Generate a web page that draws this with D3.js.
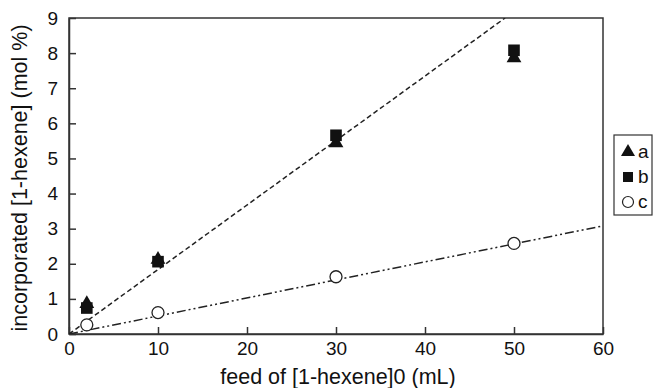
<!DOCTYPE html>
<html>
<head>
<meta charset="utf-8">
<script src="https://cdn.jsdelivr.net/npm/d3@7"></script>
<style>
  body { margin: 0; background: #fff; }
  svg { font-family: "Liberation Sans", Arial, sans-serif; }
</style>
</head>
<body>
<div id="chart"></div>
<script>
// data
const feed = [2, 10, 30, 50];
const seriesA = [0.86, 2.12, 5.44, 7.86];
const seriesB = [0.74, 2.06, 5.66, 8.08];
const seriesC = [0.26, 0.61, 1.63, 2.58];
const fitABx = [0, 49];
const fitABy = [0, 9];
const fitCx = [0, 60];
const fitCy = [0, 3.08];
const xTicks = [0, 10, 20, 30, 40, 50, 60];
const yTicks = [0, 1, 2, 3, 4, 5, 6, 7, 8, 9];
const legendLabels = ["a", "b", "c"];

const width = 655;
const height = 388;
const margin = { top: 18, right: 52, bottom: 54, left: 69 };
const fontFam = "Liberation Sans, Arial, sans-serif";

const svg = d3.select("#chart").append("svg")
   .attr("width", width)
   .attr("height", height);

const x = d3.scaleLinear().domain([0, 60]).range([margin.left, width - margin.right]);
const y = d3.scaleLinear().domain([0, 9]).range([height - margin.bottom, margin.top]);

svg.append("clipPath").attr("id", "plotclip")
   .append("rect")
   .attr("x", margin.left).attr("y", margin.top)
   .attr("width", x(60) - x(0)).attr("height", y(0) - y(9));

// frame
svg.append("rect")
   .attr("x", x(0)).attr("y", y(9))
   .attr("width", x(60) - x(0)).attr("height", y(0) - y(9))
   .attr("fill", "none").attr("stroke", "#333").attr("stroke-width", 1.5);

// axes (ticks pointing inward)
const xAxis = g => g.attr("transform", `translate(0,${y(0)})`)
   .call(d3.axisBottom(x).tickValues(xTicks).tickSizeInner(-7).tickSizeOuter(0).tickPadding(8))
   .call(g => g.select(".domain").attr("stroke", "#333").attr("stroke-width", 1.5))
   .call(g => g.selectAll(".tick line").attr("stroke", "#333").attr("stroke-width", 1.5))
   .call(g => g.selectAll(".tick text").attr("font-size", 19).attr("fill", "#111")
      .attr("font-family", fontFam));

const yAxis = g => g.attr("transform", `translate(${x(0)},0)`)
   .call(d3.axisLeft(y).tickValues(yTicks).tickSizeInner(-7).tickSizeOuter(0).tickPadding(11))
   .call(g => g.select(".domain").attr("stroke", "#333").attr("stroke-width", 1.5))
   .call(g => g.selectAll(".tick line").attr("stroke", "#333").attr("stroke-width", 1.5))
   .call(g => g.selectAll(".tick text").attr("font-size", 19).attr("fill", "#111")
      .attr("font-family", fontFam));

svg.append("g").call(xAxis);
svg.append("g").call(yAxis);

// fit lines
const line = d3.line().x(d => x(d[0])).y(d => y(d[1]));
const lines = svg.append("g").attr("clip-path", "url(#plotclip)").attr("fill", "none");

lines.append("path")
   .attr("d", line(d3.zip(fitABx, fitABy)))
   .attr("stroke", "#222").attr("stroke-width", 1.5)
   .attr("stroke-dasharray", "5,3");

lines.append("path")
   .attr("d", line(d3.zip(fitCx, fitCy)))
   .attr("stroke", "#222").attr("stroke-width", 1.5)
   .attr("stroke-dasharray", "9,3,2,3,2,3");

// markers
const tri = d3.symbol().type(d3.symbolTriangle).size(95);
const sq = d3.symbol().type(d3.symbolSquare).size(135);

svg.append("g").selectAll("path")
   .data(d3.zip(feed, seriesA))
   .join("path")
   .attr("transform", d => `translate(${x(d[0])},${y(d[1])})`)
   .attr("d", tri)
   .attr("fill", "#111");

svg.append("g").selectAll("path")
   .data(d3.zip(feed, seriesB))
   .join("path")
   .attr("transform", d => `translate(${x(d[0])},${y(d[1])})`)
   .attr("d", sq)
   .attr("fill", "#111");

svg.append("g").selectAll("circle")
   .data(d3.zip(feed, seriesC))
   .join("circle")
   .attr("cx", d => x(d[0]))
   .attr("cy", d => y(d[1]))
   .attr("r", 6)
   .attr("fill", "#fff")
   .attr("stroke", "#222")
   .attr("stroke-width", 1.3);

// axis titles
svg.append("text")
   .attr("x", (x(0) + x(60)) / 2 + 2)
   .attr("y", 384)
   .attr("text-anchor", "middle")
   .attr("font-size", 21.5)
   .attr("fill", "#111")
   .text("feed of [1-hexene]0 (mL)");

svg.append("text")
   .attr("transform", `translate(27,${(y(0) + y(9)) / 2 + 2}) rotate(-90)`)
   .attr("text-anchor", "middle")
   .attr("font-size", 21.5)
   .attr("fill", "#111")
   .text("incorporated [1-hexene] (mol %)");

// legend
const legend = svg.append("g").attr("transform", "translate(614,135)");
legend.append("rect")
   .attr("x", 0).attr("y", 0).attr("width", 38).attr("height", 80)
   .attr("fill", "#fff").attr("stroke", "#333").attr("stroke-width", 1.2);

const legendSymbols = [
   g => g.append("path").attr("d", d3.symbol().type(d3.symbolTriangle).size(85)).attr("fill", "#111"),
   g => g.append("path").attr("d", d3.symbol().type(d3.symbolSquare).size(100)).attr("fill", "#111"),
   g => g.append("circle").attr("r", 5.5).attr("fill", "#fff").attr("stroke", "#222").attr("stroke-width", 1.2)
];

legendLabels.forEach((lab, i) => {
   const row = legend.append("g").attr("transform", `translate(0,${17 + i * 25})`);
   const s = row.append("g").attr("transform", "translate(14,0)");
   legendSymbols[i](s);
   row.append("text")
      .attr("x", 24).attr("y", 6)
      .attr("font-size", 19)
      .attr("fill", "#111")
      .text(lab);
});
</script>
</body>
</html>
